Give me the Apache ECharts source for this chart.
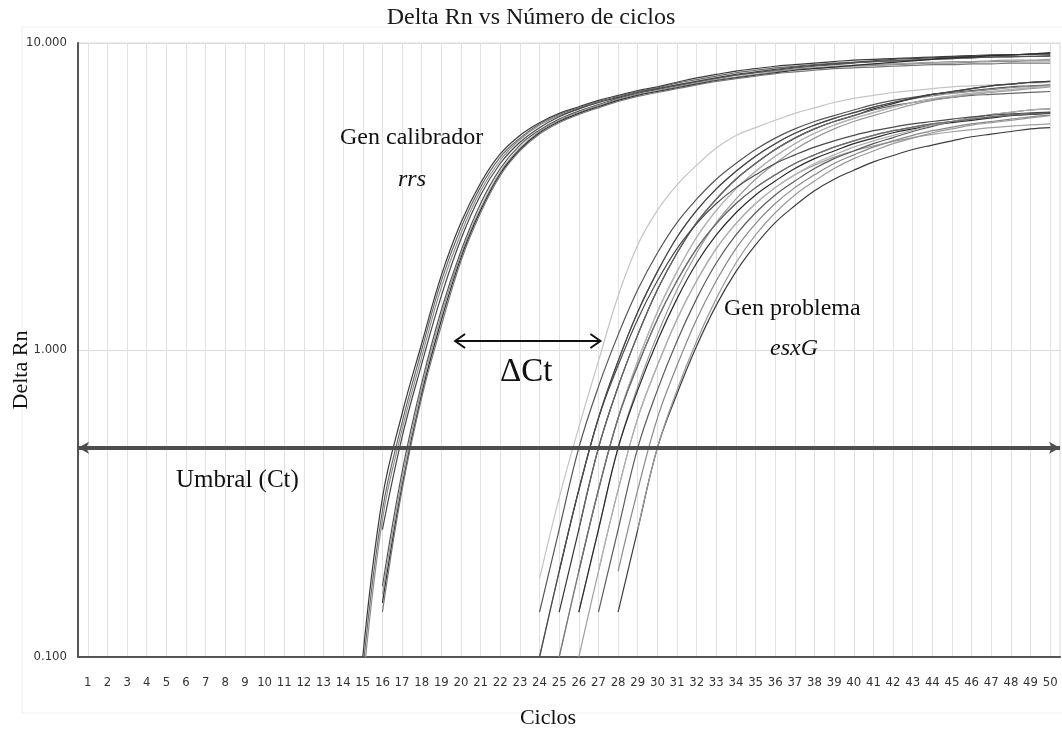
<!DOCTYPE html>
<html>
<head>
<meta charset="utf-8">
<title>Delta Rn vs Número de ciclos</title>
<script src="https://cdn.jsdelivr.net/npm/echarts@6/dist/echarts.min.js"></script>
<style>
  html, body { margin: 0; padding: 0; background: #ffffff; }
  #chart { width: 1062px; height: 731px; }
</style>
</head>
<body>
<div id="chart"></div>
<script>
// Cycle numbers shown on the x axis
const cycles = [1,2,3,4,5,6,7,8,9,10,11,12,13,14,15,16,17,18,19,20,21,22,23,24,25,
  26,27,28,29,30,31,32,33,34,35,36,37,38,39,40,41,42,43,44,45,46,47,48,49,50];

// Threshold (Ct) level and the ΔCt arrow (cycle from, cycle to, Delta Rn level)
const threshold = 0.48;
const deltaCtFrom = 19.7;
const deltaCtTo = 27.1;
const deltaCtLevel = 1.07;

// Calibrator gene (rrs) amplification curves: first cycle of each curve, then Delta Rn per cycle
const rrsStarts = [15, 15, 15, 16, 16, 16, 16, 16];
const rrs1 = [0.10,0.33,0.62,1.05,1.75,2.6,3.5,4.35,5.0,5.5,5.9,6.2,6.5,6.75,7.0,7.2,7.45,7.7,7.9,8.1,8.25,8.4,8.5,8.6,8.7,8.8,8.85,8.9,8.95,9.0,9.05,9.1,9.15,9.15,9.2,9.2];
const rrs2 = [0.09,0.30,0.58,1.0,1.68,2.5,3.4,4.25,4.9,5.45,5.85,6.15,6.45,6.7,6.95,7.15,7.4,7.6,7.8,8.0,8.15,8.3,8.4,8.5,8.6,8.65,8.7,8.75,8.8,8.85,8.9,8.95,9.0,9.0,9.05,9.05];
const rrs3 = [0.08,0.28,0.55,0.95,1.6,2.4,3.3,4.15,4.85,5.4,5.8,6.1,6.4,6.65,6.9,7.1,7.3,7.5,7.7,7.85,8.0,8.1,8.2,8.3,8.35,8.4,8.45,8.5,8.55,8.6,8.6,8.65,8.7,8.7,8.75,8.75];
const rrs4 = [0.26,0.52,0.9,1.5,2.3,3.2,4.05,4.75,5.3,5.75,6.1,6.4,6.65,6.9,7.1,7.3,7.5,7.7,7.9,8.05,8.2,8.35,8.45,8.55,8.65,8.75,8.85,8.9,8.95,9.0,9.05,9.1,9.15,9.2,9.25];
const rrs5 = [0.17,0.40,0.78,1.35,2.1,3.0,3.9,4.65,5.2,5.65,6.0,6.3,6.6,6.85,7.05,7.25,7.45,7.65,7.85,8.0,8.15,8.3,8.4,8.5,8.6,8.7,8.75,8.8,8.85,8.9,8.95,9.0,9.05,9.05,9.1];
const rrs6 = [0.16,0.38,0.75,1.3,2.05,2.9,3.8,4.55,5.15,5.6,5.95,6.25,6.55,6.8,7.0,7.2,7.4,7.6,7.75,7.9,8.05,8.2,8.3,8.4,8.45,8.5,8.55,8.6,8.65,8.7,8.7,8.75,8.8,8.8,8.85];
const rrs7 = [0.15,0.36,0.72,1.25,2.0,2.85,3.75,4.5,5.1,5.55,5.9,6.2,6.5,6.75,6.95,7.15,7.35,7.55,7.7,7.85,8.0,8.15,8.25,8.35,8.45,8.55,8.65,8.75,8.85,8.95,9.0,9.1,9.15,9.2,9.3];
const rrs8 = [0.14,0.35,0.70,1.2,1.95,2.8,3.7,4.45,5.05,5.5,5.85,6.15,6.45,6.7,6.9,7.1,7.3,7.5,7.65,7.8,7.95,8.05,8.15,8.25,8.3,8.35,8.4,8.45,8.5,8.5,8.55,8.55,8.6,8.6,8.6];
const rrsCurves = [rrs1, rrs2, rrs3, rrs4, rrs5, rrs6, rrs7, rrs8];
const rrsColors = ['#3a3a3a', '#6a6a6a', '#8e8e8e', '#454545', '#555555', '#9a9a9a', '#2e2e2e', '#777777'];

// Target gene (esxG) amplification curves
const esxStarts = [24, 24, 24, 25, 25, 26, 26, 25, 26, 25, 26, 26, 27, 28, 28, 27, 26, 29, 24];
const esx1 = [0.18,0.33,0.56,0.92,1.5,2.2,2.85,3.45,4.0,4.55,5.0,5.3,5.6,5.9,6.15,6.4,6.6,6.75,6.9,7.0,7.1,7.2,7.25,7.3,7.35,7.4,7.45];
const esx2 = [0.14,0.26,0.48,0.76,1.12,1.57,2.07,2.6,3.1,3.6,4.05,4.5,4.9,5.25,5.55,5.8,6.05,6.3,6.5,6.65,6.8,6.9,7.0,7.1,7.2,7.25,7.3];
const esx3 = [0.10,0.19,0.35,0.6,0.92,1.33,1.8,2.33,2.85,3.35,3.82,4.28,4.7,5.08,5.4,5.68,5.93,6.18,6.4,6.58,6.72,6.85,6.95,7.05,7.15,7.22,7.28];
const esx4 = [0.14,0.26,0.48,0.76,1.12,1.57,2.07,2.6,3.1,3.6,4.05,4.5,4.9,5.25,5.55,5.8,6.1,6.35,6.6,6.8,6.95,7.1,7.25,7.35,7.45,7.5];
const esx5 = [0.10,0.19,0.35,0.6,0.92,1.33,1.8,2.33,2.85,3.35,3.82,4.28,4.7,5.08,5.4,5.68,5.93,6.18,6.4,6.58,6.72,6.85,6.95,7.05,7.15,7.22];
const esx6 = [0.26,0.48,0.76,1.12,1.57,2.07,2.6,3.1,3.6,4.05,4.5,4.9,5.25,5.55,5.8,6.05,6.25,6.4,6.55,6.65,6.75,6.8,6.85,6.9,6.95];
const esx7 = [0.14,0.26,0.48,0.76,1.12,1.57,2.07,2.6,3.1,3.6,4.05,4.5,4.9,5.25,5.55,5.8,6.05,6.3,6.5,6.65,6.8,6.9,7.0,7.1,7.2];
const esx8 = [0.19,0.35,0.6,0.92,1.33,1.8,2.33,2.85,3.35,3.82,4.28,4.7,5.08,5.4,5.68,5.93,6.18,6.4,6.6,6.8,6.95,7.1,7.25,7.35,7.45,7.5];
const esx9 = [0.19,0.35,0.6,0.92,1.33,1.8,2.33,2.85,3.35,3.82,4.28,4.7,5.08,5.4,5.68,5.93,6.18,6.4,6.58,6.72,6.85,6.95,7.05,7.15,7.22];
const esx10 = [0.10,0.19,0.35,0.6,0.89,1.26,1.68,2.14,2.58,3.0,3.38,3.72,4.05,4.32,4.58,4.8,5.0,5.18,5.32,5.45,5.55,5.65,5.75,5.82,5.88,5.92];
const esx11 = [0.14,0.26,0.48,0.74,1.07,1.47,1.92,2.37,2.8,3.2,3.55,3.9,4.2,4.45,4.7,4.9,5.1,5.25,5.4,5.5,5.6,5.7,5.8,5.85,5.9];
const esx12 = [0.10,0.19,0.35,0.6,0.89,1.26,1.68,2.14,2.58,3.0,3.38,3.72,4.0,4.25,4.45,4.62,4.78,4.92,5.04,5.14,5.22,5.3,5.36,5.41,5.45];
const esx13 = [0.14,0.26,0.48,0.74,1.07,1.47,1.92,2.37,2.8,3.2,3.55,3.9,4.2,4.45,4.7,4.92,5.15,5.35,5.55,5.7,5.85,5.95,6.05,6.1];
const esx14 = [0.19,0.35,0.6,0.89,1.26,1.68,2.14,2.58,3.0,3.38,3.72,4.05,4.32,4.58,4.8,5.0,5.18,5.32,5.45,5.55,5.65,5.75,5.82];
const esx15 = [0.14,0.26,0.48,0.72,1.03,1.4,1.8,2.2,2.6,2.95,3.3,3.6,3.85,4.1,4.3,4.5,4.65,4.8,4.95,5.05,5.15,5.25,5.3];
const esx16 = [0.19,0.35,0.6,0.89,1.26,1.68,2.14,2.58,3.0,3.38,3.72,4.05,4.32,4.58,4.8,5.0,5.2,5.4,5.55,5.7,5.85,5.95,6.05,6.1];
const esx17 = [0.19,0.35,0.6,0.89,1.26,1.68,2.14,2.58,3.0,3.38,3.72,4.05,4.32,4.58,4.8,5.0,5.18,5.32,5.45,5.55,5.65,5.75,5.82,5.88,5.92];
const esx18 = [0.26,0.48,0.74,1.07,1.47,1.92,2.37,2.8,3.2,3.55,3.9,4.2,4.45,4.7,4.9,5.1,5.25,5.4,5.5,5.6,5.7,5.8];
const esx19 = [0.10,0.19,0.35,0.6,0.89,1.26,1.68,2.14,2.58,3.0,3.38,3.72,4.05,4.32,4.58,4.8,5.0,5.18,5.32,5.45,5.55,5.65,5.75,5.82,5.88,5.92,5.95];
const esxCurves = [esx1, esx2, esx3, esx4, esx5, esx6, esx7, esx8, esx9, esx10,
  esx11, esx12, esx13, esx14, esx15, esx16, esx17, esx18, esx19];
const esxColors = ['#c4c4c4', '#555555', '#8c8c8c', '#333333', '#aaaaaa', '#666666', '#999999', '#444444',
  '#b5b5b5', '#777777', '#2b2b2b', '#a0a0a0', '#5a5a5a', '#888888', '#3c3c3c', '#b0b0b0', '#6e6e6e', '#999999', '#4a4a4a'];

const serif = "'Liberation Serif', 'Times New Roman', serif";
const condensed = "'Liberation Sans Narrow', 'DejaVu Sans Condensed', 'Liberation Sans', sans-serif";

function toPoints(start, values) {
  return values.map((v, i) => [start + i, v]);
}

function curveSeries(name, start, values, color) {
  return {
    type: 'line',
    name: name,
    data: toPoints(start, values),
    smooth: 0.4,
    symbol: 'none',
    showSymbol: false,
    silent: true,
    clip: true,
    lineStyle: { width: 1.2, color: color },
    z: 3
  };
}

const series = [];
rrsCurves.forEach((vals, i) => series.push(curveSeries('rrs ' + (i + 1), rrsStarts[i], vals, rrsColors[i])));
esxCurves.forEach((vals, i) => series.push(curveSeries('esxG ' + (i + 1), esxStarts[i], vals, esxColors[i])));

// Threshold line across the whole plot, arrow heads at both ends
series[0].markLine = {
  silent: true,
  animation: false,
  symbol: ['arrow', 'arrow'],
  symbolSize: [9, 11],
  label: { show: false },
  emphasis: { disabled: true },
  lineStyle: { color: '#4d4d4d', width: 4, type: 'solid', opacity: 1 },
  data: [{ yAxis: threshold }]
};

const chart = echarts.init(document.getElementById('chart'), null, { renderer: 'canvas' });

chart.setOption({
  animation: false,
  backgroundColor: '#ffffff',
  title: {
    text: 'Delta Rn vs Número de ciclos',
    left: 'center',
    top: 1,
    textStyle: { fontFamily: serif, fontSize: 24, fontWeight: 'normal', color: '#1a1a1a' }
  },
  grid: {
    left: 78, right: 2, top: 43, bottom: 74,
    show: true, borderColor: '#d6d6d6', borderWidth: 1
  },
  xAxis: {
    type: 'value',
    min: 0.5,
    max: 50.5,
    axisLine: { show: true, onZero: false, lineStyle: { color: '#555555', width: 2 } },
    axisTick: { show: false, customValues: cycles },
    axisLabel: {
      customValues: cycles,
      margin: 19,
      fontFamily: condensed,
      fontSize: 13,
      color: '#333333'
    },
    splitLine: { show: true, lineStyle: { color: '#e2e2e2', width: 1 } }
  },
  yAxis: {
    type: 'log',
    logBase: 10,
    min: 0.1,
    max: 10,
    axisLine: { show: true, lineStyle: { color: '#555555', width: 2 } },
    axisTick: { show: false },
    axisLabel: {
      margin: 11,
      fontFamily: condensed,
      fontSize: 13,
      color: '#333333',
      formatter: v => Number(v).toFixed(3)
    },
    splitLine: { show: true, lineStyle: { color: '#dcdcdc', width: 1 } },
    minorSplitLine: { show: false }
  },
  series: series
});

// ΔCt double arrow placed at its data coordinates
const pA = chart.convertToPixel({ gridIndex: 0 }, [deltaCtFrom, deltaCtLevel]);
const pB = chart.convertToPixel({ gridIndex: 0 }, [deltaCtTo, deltaCtLevel]);
const head = 10, half = 7;

const text = (str, x, y, size, opts) => Object.assign({
  type: 'text',
  silent: true,
  z: 20,
  style: Object.assign({
    text: str, x: x, y: y,
    fontFamily: serif, fontSize: size,
    fill: '#111111',
    textAlign: 'left', textVerticalAlign: 'middle'
  }, opts || {})
});

chart.setOption({
  graphic: [
    {
      type: 'rect', silent: true, z: -1,
      shape: { x: 22, y: 27, width: 1050, height: 686 },
      style: { fill: 'none', stroke: '#efefef', lineWidth: 1 }
    },
    {
      type: 'line', silent: true, z: 20,
      shape: { x1: pA[0], y1: pA[1], x2: pB[0], y2: pB[1] },
      style: { stroke: '#111111', lineWidth: 2 }
    },
    {
      type: 'polyline', silent: true, z: 20,
      shape: { points: [[pA[0] + head, pA[1] - half], [pA[0], pA[1]], [pA[0] + head, pA[1] + half]] },
      style: { stroke: '#111111', lineWidth: 2, fill: 'none' }
    },
    {
      type: 'polyline', silent: true, z: 20,
      shape: { points: [[pB[0] - head, pB[1] - half], [pB[0], pB[1]], [pB[0] - head, pB[1] + half]] },
      style: { stroke: '#111111', lineWidth: 2, fill: 'none' }
    },
    text('Gen calibrador', 340, 138, 24),
    text('rrs', 398, 180, 24, { fontStyle: 'italic' }),
    text('ΔCt', 500, 372, 33),
    text('Gen problema', 724, 309, 24),
    text('esxG', 770, 349, 24, { fontStyle: 'italic' }),
    text('Umbral (Ct)', 176, 480, 25),
    text('Ciclos', 548, 718, 22, { textAlign: 'center' }),
    {
      type: 'text', silent: true, z: 20,
      x: 21, y: 370, rotation: Math.PI / 2,
      style: {
        text: 'Delta Rn', x: 0, y: 0,
        fontFamily: serif, fontSize: 22, fill: '#111111',
        textAlign: 'center', textVerticalAlign: 'middle'
      }
    }
  ]
});
</script>
</body>
</html>
